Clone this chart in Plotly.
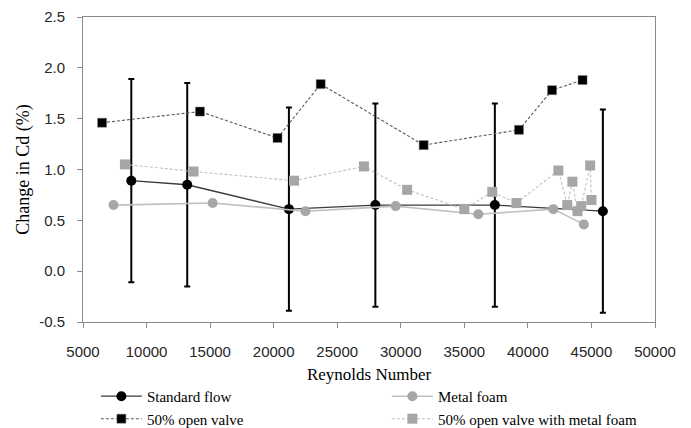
import plotly.graph_objects as go

# Standard flow
std_re = [8800, 13200, 21200, 28000, 37400, 45900]
std_cd = [0.89, 0.85, 0.61, 0.65, 0.65, 0.59]
std_err = [1.0, 1.0, 1.0, 1.0, 1.0, 1.0]

# Metal foam
mf_re = [7400, 15200, 22500, 29600, 36100, 42000, 44400]
mf_cd = [0.65, 0.67, 0.59, 0.64, 0.56, 0.61, 0.46]

# 50% open valve
ov_re = [6500, 14200, 20300, 23700, 31800, 39300, 41900, 44300]
ov_cd = [1.46, 1.57, 1.31, 1.84, 1.24, 1.39, 1.78, 1.88]

# 50% open valve with metal foam
ovmf_re = [8300, 13700, 21600, 27100, 30500, 35000, 37200, 39100,
           42400, 43100, 43500, 43900, 44200, 44900, 45000]
ovmf_cd = [1.05, 0.98, 0.89, 1.03, 0.80, 0.61, 0.78, 0.67,
           0.99, 0.65, 0.88, 0.59, 0.64, 1.04, 0.70]

x_ticks = [5000, 10000, 15000, 20000, 25000, 30000, 35000, 40000, 45000, 50000]
y_ticks = [-0.5, 0.0, 0.5, 1.0, 1.5, 2.0, 2.5]

fig = go.Figure()

fig.add_trace(go.Scatter(
    x=std_re, y=std_cd, name="Standard flow", mode="lines+markers",
    line=dict(color="#3a3a3a", width=1.3),
    marker=dict(symbol="circle", size=10, color="black"),
    error_y=dict(type="data", array=std_err, visible=True,
                 color="black", thickness=2, width=3),
))
fig.add_trace(go.Scatter(
    x=mf_re, y=mf_cd, name="Metal foam", mode="lines+markers",
    line=dict(color="#c0c0c0", width=1.6),
    marker=dict(symbol="circle", size=10, color="#a6a6a6"),
))
fig.add_trace(go.Scatter(
    x=ov_re, y=ov_cd, name="50% open valve", mode="lines+markers",
    line=dict(color="#5a5a5a", width=1.1, dash="3px,2px"),
    marker=dict(symbol="square", size=9, color="black",
                line=dict(color="#777777", width=0.5)),
))
fig.add_trace(go.Scatter(
    x=ovmf_re, y=ovmf_cd, name="50% open valve with metal foam",
    mode="lines+markers",
    line=dict(color="#c0c0c0", width=1.1, dash="3px,2px"),
    marker=dict(symbol="square", size=10, color="#a6a6a6"),
))

axis_common = dict(
    showgrid=False, zeroline=False, showline=True, linecolor="#8a8a8a",
    linewidth=1, mirror=True, ticks="outside", ticklen=5, tickcolor="#8a8a8a",
    tickfont=dict(family="Liberation Sans, Arial, sans-serif", size=15, color="#262626"),
)

fig.update_xaxes(
    range=[5000, 50000], tickvals=x_ticks, ticktext=[str(v) for v in x_ticks],
    ticklabelstandoff=11,
    title=dict(text="Reynolds Number", standoff=9,
               font=dict(family="Liberation Serif, Times New Roman, serif", size=17, color="black")),
    **axis_common,
)
fig.update_yaxes(
    range=[-0.5, 2.5], tickvals=y_ticks, ticktext=[f"{v:.1f}" for v in y_ticks],
    ticklabelstandoff=9,
    title=dict(text="Change in Cd (%)", standoff=4,
               font=dict(family="Liberation Serif, Times New Roman, serif", size=18, color="black")),
    **axis_common,
)

fig.update_layout(
    width=691, height=428,
    margin=dict(l=83, r=36, t=17, b=106, autoexpand=False),
    paper_bgcolor="white", plot_bgcolor="white",
    showlegend=True,
    legend=dict(
        orientation="h", x=1.04, xanchor="right", y=-0.19, yanchor="top",
        entrywidth=235, entrywidthmode="pixels", itemwidth=41,
        tracegroupgap=0, bgcolor="rgba(0,0,0,0)",
        font=dict(family="Liberation Serif, Times New Roman, serif", size=15, color="black"),
    ),
)

fig.write_html("out.html")
